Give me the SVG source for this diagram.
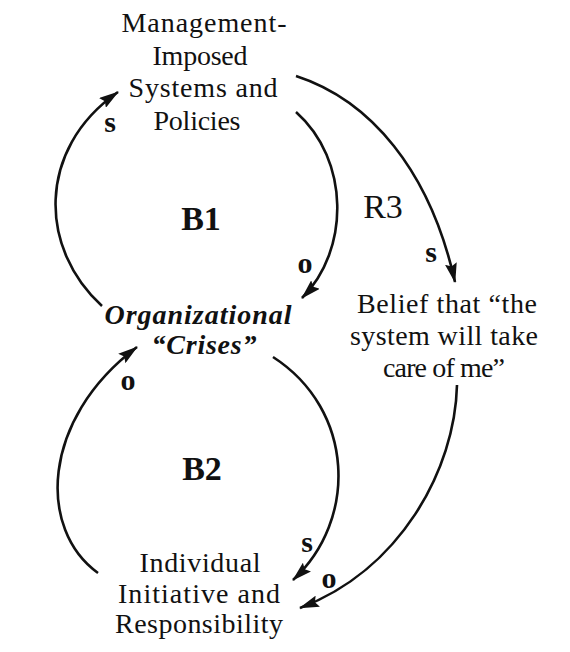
<svg xmlns="http://www.w3.org/2000/svg" width="570" height="652" viewBox="0 0 570 652">
<style>
.t{font-family:"Liberation Serif","Times New Roman",serif;font-size:28px;fill:#111;text-anchor:middle}
.it{font-style:italic;font-weight:bold}
.lp{font-family:"Liberation Serif","Times New Roman",serif;font-size:34px;fill:#111;text-anchor:middle}
.pol{font-family:"Liberation Serif","Times New Roman",serif;font-size:30px;font-weight:bold;fill:#111;text-anchor:middle}
.c{fill:none;stroke:#111;stroke-width:2.6;marker-end:url(#ah)}
</style>
<defs>
<marker id="ah" markerUnits="userSpaceOnUse" markerWidth="20" markerHeight="12" refX="19" refY="6" orient="auto">
<path d="M0,0 L20,6 L0,12 L3,6 z" fill="#111"/>
</marker>
</defs>
<rect width="570" height="652" fill="#fff"/>
<g id="connectors">
<path class="c" d="M102,306 C40,250 35,150 118,92"/>
<path class="c" d="M296,112 C350,160 350,250 302,298"/>
<path class="c" d="M296,76 C370,100 430,170 455,282"/>
<path class="c" d="M98,573 C38,530 40,420 137,347"/>
<path class="c" d="M273,357 C355,410 358,520 293,580"/>
<path class="c" d="M457,385 C455,470 400,570 300,608"/>
</g>
<g id="node-management">
<text class="t" x="204" y="32" textLength="165" lengthAdjust="spacing">Management-</text>
<text class="t" x="200" y="65" textLength="95" lengthAdjust="spacing">Imposed</text>
<text class="t" x="203" y="97" textLength="149" lengthAdjust="spacing">Systems and</text>
<text class="t" x="197" y="130" textLength="87" lengthAdjust="spacing">Policies</text>
</g>
<g id="node-crises">
<text class="t it" x="198" y="324" textLength="187" lengthAdjust="spacing">Organizational</text>
<text class="t it" x="204" y="354" textLength="105" lengthAdjust="spacing">“Crises”</text>
</g>
<g id="node-belief">
<text class="t" x="447" y="313" textLength="180" lengthAdjust="spacing">Belief that “the</text>
<text class="t" x="444" y="345" textLength="188" lengthAdjust="spacing">system will take</text>
<text class="t" x="444" y="377" textLength="122" lengthAdjust="spacing">care of me”</text>
</g>
<g id="node-individual">
<text class="t" x="200" y="572" textLength="121" lengthAdjust="spacing">Individual</text>
<text class="t" x="199" y="603" textLength="162" lengthAdjust="spacing">Initiative and</text>
<text class="t" x="199" y="633" textLength="168" lengthAdjust="spacing">Responsibility</text>
</g>
<g id="loop-labels">
<text class="lp" x="201" y="230" font-weight="bold">B1</text>
<text class="lp" x="383" y="218">R3</text>
<text class="lp" x="202" y="480" font-weight="bold">B2</text>
</g>
<g id="polarity-labels">
<text class="pol" x="110" y="132">s</text>
<text class="pol" x="305" y="273">o</text>
<text class="pol" x="431" y="262">s</text>
<text class="pol" x="128" y="390">o</text>
<text class="pol" x="307" y="552">s</text>
<text class="pol" x="329" y="588">o</text>
</g>
</svg>
